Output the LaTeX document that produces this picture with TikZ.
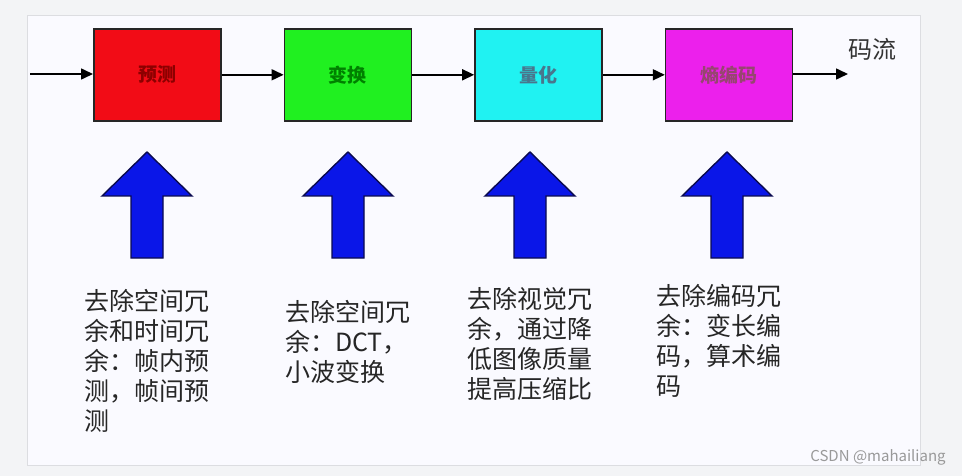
\documentclass[tikz,border=0pt]{standalone}
\usepackage{fontspec}
\newfontfamily\cjk{Noto Sans CJK SC}
\usepackage{tikz}
\usetikzlibrary{positioning, arrows.meta}
\usepackage{xcolor}
\definecolor{bgGray}{HTML}{F3F4F6}
\definecolor{panelGray}{HTML}{DCDDE1}
\definecolor{boxRed}{HTML}{F20C16}
\definecolor{boxGreen}{HTML}{20F020}
\definecolor{boxCyan}{HTML}{20F2F2}
\definecolor{boxMagenta}{HTML}{EC20EC}
\definecolor{arrowBlue}{HTML}{0A16E8}
\definecolor{arrowNavy}{HTML}{0A0A50}

\begin{document}
\begin{tikzpicture}[
			x=1pt, y=-1pt,
			node distance=62pt,
			stage/.style={
				rectangle,
				draw=black!85,
				line width=1.6pt,
				minimum width=127pt,
				minimum height=92pt,
				font=\cjk\bfseries\fontsize{19}{22}\selectfont
			},
			desc/.style={
				anchor=north west,
				inner sep=0pt,
				align=left,
				text=black!85,
				font=\cjk\fontsize{25}{30}\selectfont
			},
			line/.style={
				-{Triangle[length=12pt, width=11pt]},
				line width=1.6pt
			},
			bigarrow/.style={
				fill=arrowBlue,
				draw=arrowNavy,
				line width=1.4pt,
				line join=miter
			}
			]
			
			% Frame
			
			\useasboundingbox (0,0) rectangle (962,476);
			\fill[bgGray] (0,0) rectangle (962,476);
			\filldraw[fill=white!98!blue, draw=panelGray, line width=0.8pt] (27,15) rectangle (920,465);
			
			% Stages
			
			\node [stage, fill=boxRed, text=red!55!black, anchor=north west] (pred) at (93,28) {预测};
			\node [stage, fill=boxGreen, text=green!50!black, right=of pred] (trans) {变换};
			\node [stage, fill=boxCyan, text=cyan!50!black, right=of trans] (quant) {量化};
			\node [stage, fill=boxMagenta, text=magenta!55!black, right=of quant] (entropy) {熵编码};
			
			\coordinate (input) at (30,74);
			\coordinate (output) at (848,74);
			\node [font=\cjk\fontsize{24}{28}\selectfont, text=black!80] (stream) at (872,49) {码流};
			
			% Connections
			
			\draw[line] (input) -- (pred.west |- input);
			\draw[line] (pred) -- (trans);
			\draw[line] (trans) -- (quant);
			\draw[line] (quant) -- (entropy);
			\draw[line] (entropy.east |- output) -- (output);
			
			% Block arrows
			
			\foreach \cx in {147,348,530,727}
				\draw[bigarrow] (\cx,152) -- (\cx+45,196) -- (\cx+16,196) -- (\cx+16,258)
				-- (\cx-16,258) -- (\cx-16,196) -- (\cx-45,196) -- cycle;
			
			% Descriptions
			
			\node [desc] (predtxt) at (84,289) {去除空间冗\\余和时间冗\\余：帧内预\\测，帧间预\\测};
			\node [desc] (transtxt) at (285,300) {去除空间冗\\余：DCT，\\小波变换};
			\node [desc] (quanttxt) at (467,287) {去除视觉冗\\余，通过降\\低图像质量\\提高压缩比};
			\node [desc] (entropytxt) at (656,284) {去除编码冗\\余：变长编\\码，算术编\\码};
			
			\node [font=\cjk\fontsize{15}{18}\selectfont, text=black!40] (mark) at (878,457) {CSDN @mahailiang};
			
		\end{tikzpicture}
\end{document}
